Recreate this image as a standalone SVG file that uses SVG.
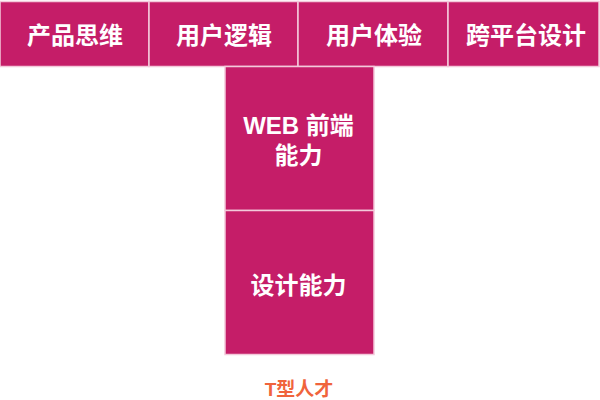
<svg xmlns="http://www.w3.org/2000/svg" width="600" height="400" viewBox="0 0 600 400">
<style>
.box{fill:#C51D68;stroke:#F3C9DA;stroke-width:1.5}
.lbl{fill:#FFFFFF;font-family:"Liberation Sans","Noto Sans CJK SC",sans-serif;font-weight:bold;font-size:24px;text-anchor:middle}
.cap{fill:#F0643C;font-family:"Liberation Sans","Noto Sans CJK SC",sans-serif;font-weight:bold;font-size:19px;text-anchor:middle}
</style>
<rect width="600" height="400" fill="#FFFFFF"/>
<g id="node-product">
<rect class="box" x="0" y="1.5" width="149" height="65"/>
<text class="lbl" x="75" y="44">产品思维</text>
</g>
<g id="node-userlogic">
<rect class="box" x="149" y="1.5" width="149" height="65"/>
<text class="lbl" x="224" y="44">用户逻辑</text>
</g>
<g id="node-ux">
<rect class="box" x="298" y="1.5" width="150" height="65"/>
<text class="lbl" x="374" y="44">用户体验</text>
</g>
<g id="node-crossplatform">
<rect class="box" x="448" y="1.5" width="151" height="65"/>
<text class="lbl" x="526" y="44">跨平台设计</text>
</g>
<g id="node-web">
<rect class="box" x="225" y="66.5" width="149" height="144"/>
<text class="lbl" x="298.5" y="134">WEB 前端</text>
<text class="lbl" x="298.5" y="164">能力</text>
</g>
<g id="node-design">
<rect class="box" x="225" y="210.5" width="149" height="144"/>
<text class="lbl" x="298.5" y="294">设计能力</text>
</g>
<g id="connectors"></g>
<text class="cap" x="299" y="396">T型人才</text>
</svg>
